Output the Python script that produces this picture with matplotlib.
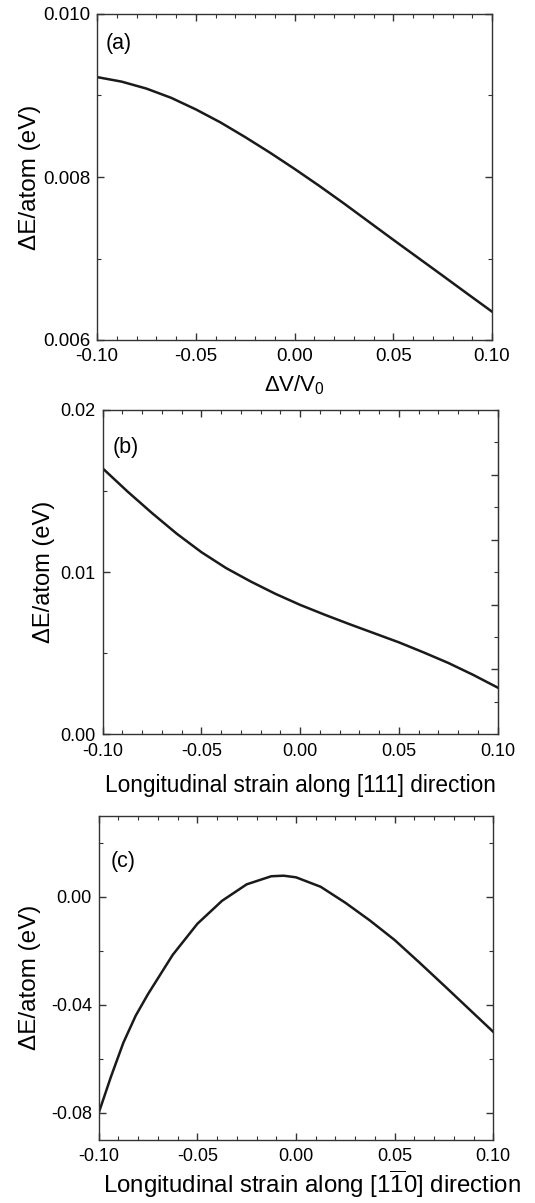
import numpy as np
import matplotlib
matplotlib.use('Agg')
import matplotlib.pyplot as plt
from matplotlib.ticker import MultipleLocator, FormatStrFormatter

plt.rcParams['font.family'] = ['Liberation Sans', 'DejaVu Sans']
plt.rcParams['mathtext.fontset'] = 'custom'
plt.rcParams['mathtext.rm'] = 'Liberation Sans'
plt.rcParams['mathtext.it'] = 'Liberation Sans:italic'
plt.rcParams['axes.unicode_minus'] = False

# strain values (x) shared by panels a and b
strain = [-0.1, -0.0875, -0.075, -0.0625, -0.05, -0.0375, -0.025, -0.0125, 0.0,
          0.0125, 0.025, 0.0375, 0.05, 0.0625, 0.075, 0.0875, 0.1]

# (a) volumetric strain
dE_vol = [0.009226, 0.009170, 0.009085, 0.008972, 0.008830, 0.008670, 0.008490,
          0.008300, 0.008100, 0.007892, 0.007676, 0.007453, 0.007230, 0.007010,
          0.006790, 0.006568, 0.006348]

# (b) strain along [111]
dE_111 = [0.01640, 0.01498, 0.01364, 0.01237, 0.01123, 0.01025, 0.00942, 0.00866,
          0.00798, 0.00737, 0.00679, 0.00623, 0.00567, 0.00505, 0.00440, 0.00367,
          0.00288]

# (c) strain along [1-10]
strain_c = [-0.1, -0.09375, -0.0875, -0.08125, -0.075, -0.0625, -0.05, -0.0375,
            -0.025, -0.0125, -0.00625, 0.0, 0.0125, 0.025, 0.0375, 0.05, 0.0625,
            0.075, 0.0875, 0.1]
dE_110 = [-0.0800, -0.0665, -0.0540, -0.0440, -0.0360, -0.0215, -0.0100, -0.0015,
          0.0046, 0.0076, 0.0078, 0.0072, 0.0037, -0.0022, -0.0088, -0.0160,
          -0.0243, -0.0328, -0.0414, -0.0500]

W, H = 535, 1203
fig = plt.figure(figsize=(W / 100, H / 100), dpi=100)


def make_axes(l, r, t, b):
    return fig.add_axes([l / W, 1 - b / H, (r - l) / W, (b - t) / H])


def style(ax, tsize):
    for s in ax.spines.values():
        s.set_linewidth(1.0)
        s.set_color('#333333')
    ax.tick_params(which='both', direction='in', top=True, right=True,
                   color='#333333', labelsize=tsize)
    ax.tick_params(axis='x', pad=6)
    ax.tick_params(axis='y', pad=5)
    ax.tick_params(which='major', length=5, width=1.0)
    ax.tick_params(which='minor', length=3, width=0.8)
    ax.set_xlim(-0.1, 0.1)
    ax.xaxis.set_major_locator(MultipleLocator(0.05))
    ax.xaxis.set_minor_locator(MultipleLocator(0.01))
    ax.xaxis.set_major_formatter(FormatStrFormatter('%.2f'))


lc = '#1a1a1a'

# ---- panel (a)
ax1 = make_axes(97, 492, 14, 340)
ax1.plot(strain, dE_vol, color=lc, lw=1.8)
style(ax1, 13.5)
ax1.set_ylim(0.006, 0.010)
ax1.yaxis.set_major_locator(MultipleLocator(0.002))
ax1.yaxis.set_minor_locator(MultipleLocator(0.001))
ax1.yaxis.set_major_formatter(FormatStrFormatter('%.3f'))
ax1.set_ylabel('ΔE/atom (eV)', fontsize=17.5, labelpad=1)
ax1.set_xlabel('ΔV/V$_0$', fontsize=16, labelpad=6)
ax1.text(0.022, 0.91, '(a)', transform=ax1.transAxes, fontsize=15.5, va='center')

# ---- panel (b)
ax2 = make_axes(102.7, 497.7, 410, 734.3)
ax2.plot(strain, dE_111, color=lc, lw=1.8)
style(ax2, 13)
ax2.tick_params(axis='y', which='both', right=False)
ax2.set_ylim(0.0, 0.02)
ax2.yaxis.set_major_locator(MultipleLocator(0.01))
ax2.yaxis.set_minor_locator(MultipleLocator(0.005))
ax2.yaxis.set_major_formatter(FormatStrFormatter('%.2f'))
sec = ax2.secondary_yaxis('right')
sec.set_yticks([0.004, 0.008, 0.012, 0.016])
sec.yaxis.set_minor_locator(MultipleLocator(0.002))
sec.tick_params(which='both', direction='in', labelright=False, color='#333333')
sec.tick_params(which='major', length=5, width=1.0)
sec.tick_params(which='minor', length=3, width=0.8)
sec.spines['right'].set_color('#333333')
ax2.set_ylabel('ΔE/atom (eV)', fontsize=17, labelpad=4)
ax2.set_xlabel('Longitudinal strain along [111] direction', fontsize=16.3, labelpad=10)
ax2.text(0.025, 0.885, '(b)', transform=ax2.transAxes, fontsize=15.5, va='center')

# ---- panel (c)
ax3 = make_axes(98.7, 493.3, 815.7, 1140)
ax3.plot(strain_c, dE_110, color=lc, lw=1.8)
style(ax3, 13)
ax3.set_ylim(-0.09, 0.03)
ax3.yaxis.set_major_locator(MultipleLocator(0.04))
ax3.yaxis.set_minor_locator(MultipleLocator(0.02))
ax3.yaxis.set_major_formatter(FormatStrFormatter('%.2f'))
ax3.set_ylabel('ΔE/atom (eV)', fontsize=17.5, labelpad=7)
ax3.set_xlabel(r'Longitudinal strain along [1$\overline{1}$0] direction', fontsize=17.3)
ax3.xaxis.set_label_coords(0.54, -0.085)
ax3.text(0.03, 0.86, '(c)', transform=ax3.transAxes, fontsize=15.5, va='center')

fig.savefig('out.png', dpi=100)
